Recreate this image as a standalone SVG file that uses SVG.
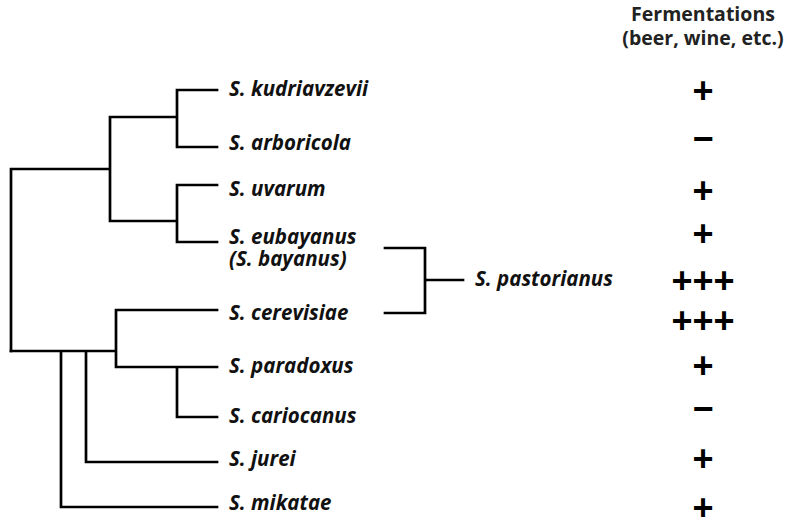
<svg xmlns="http://www.w3.org/2000/svg" width="804" height="522" viewBox="0 0 804 522">
<style>
.br{fill:none;stroke:#000;stroke-width:2.7;stroke-linecap:square;stroke-linejoin:miter}
.lb{font-family:"Open Sans","Liberation Sans",sans-serif;font-weight:bold;font-style:italic;font-size:20.5px;fill:#111}
.hd{font-family:"Open Sans","Liberation Sans",sans-serif;font-weight:bold;font-size:19.5px;fill:#222;text-anchor:middle}
.sy{font-family:"Liberation Sans",Arial,sans-serif;font-weight:bold;font-size:36px;fill:#000;text-anchor:middle}
</style>
<rect width="804" height="522" fill="#fff"/>
<g id="connectors">
<path class="br" d="M11 169V351M11 169H110M110 117V221M110 117H177M177 90V147M177 90H217M177 147H217M110 221H177M177 185V242M177 185H217M177 242H217"/>
<path class="br" d="M11 351H116M116 310V367M116 310H217M116 367H217M177 367V417M177 417H217M86 351V462M86 462H217M61 351V507M61 507H217"/>
<path class="br" d="M385 248H425V313H385M425 280H463"/>
</g>
<g id="header"><text class="hd" x="703" y="20.5">Fermentations</text><text class="hd" x="703" y="45">(beer, wine, etc.)</text></g>
<g id="n-kudriavzevii"><text class="lb" x="229" y="96">S. kudriavzevii</text><text class="sy" x="703" y="103">+</text></g>
<g id="n-arboricola"><text class="lb" x="229" y="150">S. arboricola</text><text class="sy" x="703" y="151">−</text></g>
<g id="n-uvarum"><text class="lb" x="229" y="196">S. uvarum</text><text class="sy" x="703" y="203">+</text></g>
<g id="n-eubayanus"><text class="lb" x="229" y="244">S. eubayanus</text><text class="lb" x="229" y="266">(S. bayanus)</text><text class="sy" x="703" y="246">+</text></g>
<g id="n-pastorianus"><text class="lb" x="475" y="286">S. pastorianus</text><text class="sy" x="703" y="293">+++</text></g>
<g id="n-cerevisiae"><text class="lb" x="229" y="320">S. cerevisiae</text><text class="sy" x="703" y="333">+++</text></g>
<g id="n-paradoxus"><text class="lb" x="229" y="373">S. paradoxus</text><text class="sy" x="703" y="378">+</text></g>
<g id="n-cariocanus"><text class="lb" x="229" y="423">S. cariocanus</text><text class="sy" x="703" y="421">−</text></g>
<g id="n-jurei"><text class="lb" x="229" y="466">S. jurei</text><text class="sy" x="703" y="471">+</text></g>
<g id="n-mikatae"><text class="lb" x="229" y="510">S. mikatae</text><text class="sy" x="703" y="520">+</text></g>
</svg>
